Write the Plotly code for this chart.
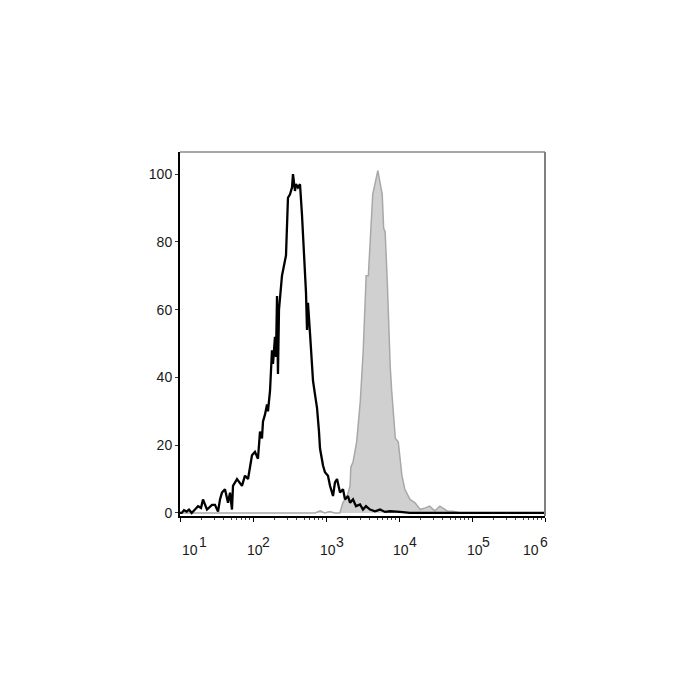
import plotly.graph_objects as go

# ---- data (x in log10 units of fluorescence, y = % of max) ----
black_logx = [1.0, 1.023, 1.055, 1.092, 1.123, 1.160, 1.205, 1.247, 1.288, 1.315, 1.370, 1.411,
              1.438, 1.479, 1.521, 1.548, 1.575, 1.616, 1.658, 1.685, 1.712, 1.726, 1.781, 1.849,
              1.890, 1.932, 1.959, 1.986, 2.027, 2.068, 2.096, 2.123, 2.137, 2.164, 2.192, 2.205,
              2.233, 2.260, 2.274, 2.301, 2.315, 2.329, 2.342, 2.356, 2.397, 2.438, 2.452, 2.479,
              2.507, 2.534, 2.548, 2.575, 2.589, 2.616, 2.644, 2.671, 2.685, 2.712, 2.726, 2.740,
              2.753, 2.781, 2.795, 2.822, 2.849, 2.877, 2.904, 2.918, 2.959, 2.986, 3.027, 3.055,
              3.096, 3.123, 3.151, 3.192, 3.233, 3.260, 3.301, 3.329, 3.370, 3.411, 3.466, 3.507,
              3.548, 3.603, 3.671, 3.740, 3.808, 3.877, 4.014, 4.151, 4.5, 5.0, 5.5, 6.0]
black_pct = [0.0, 0.0, 0.8, 0.4, 1.0, 0.0, 1.0, 2.0, 1.5, 4.0, 1.0, 2.0,
             2.4, 2.4, 0.4, 4.0, 6.0, 7.0, 3.0, 6.0, 1.0, 8.0, 10.0, 8.0,
             11.0, 10.0, 14.0, 17.0, 18.0, 16.0, 24.0, 22.0, 27.0, 29.0, 32.0, 30.0,
             36.0, 48.0, 44.0, 52.0, 46.0, 64.0, 41.0, 60.0, 70.0, 74.0, 76.0, 93.0,
             94.0, 96.0, 100.0, 95.0, 97.0, 96.0, 97.0, 88.0, 83.0, 72.0, 65.0, 54.0,
             62.0, 53.0, 47.0, 39.0, 35.0, 31.0, 24.0, 19.0, 14.0, 12.0, 11.0, 8.0,
             5.0, 9.0, 10.0, 6.0, 7.0, 4.0, 5.0, 3.0, 4.0, 2.0, 2.5, 1.0,
             2.0, 1.0, 0.5, 1.0, 0.3, 0.5, 0.3, 0.0, 0.0, 0.0, 0.0, 0.0]

gray_logx = [1.0, 2.85, 2.92, 2.98, 3.05, 3.12, 3.19, 3.23, 3.29, 3.33, 3.34, 3.37, 3.42, 3.47,
             3.51, 3.55, 3.58, 3.60, 3.64, 3.71, 3.77, 3.79, 3.81, 3.84, 3.86, 3.88, 3.90,
             3.95, 3.99, 4.04, 4.08, 4.15, 4.22, 4.29, 4.36, 4.42, 4.49, 4.56, 4.66, 4.74,
             4.84, 6.0]
gray_pct = [0.0, 0.0, 0.6, 0.0, 0.4, 0.0, 0.0, 3.0, 5.0, 8.0, 13.5, 15.0, 21.0, 33.0,
            48.0, 70.0, 70.0, 78.0, 94.0, 101.0, 94.0, 84.0, 83.0, 68.0, 54.0, 43.0, 36.0,
            22.0, 21.0, 11.0, 7.0, 4.0, 3.0, 1.0, 1.5, 2.0, 0.6, 2.0, 0.6, 0.5,
            0.0, 0.0]

y_ticks = [0, 20, 40, 60, 80, 100]
x_exponents = [1, 2, 3, 4, 5, 6]

black_x = [10 ** v for v in black_logx]
gray_x = [10 ** v for v in gray_logx]

FONT = "Liberation Sans, Arial"
TXT = "#1a1a1a"

fig = go.Figure()
fig.add_trace(go.Scatter(x=gray_x, y=gray_pct, mode="lines", fill="tozeroy",
                         fillcolor="#d0d0d0", line=dict(color="#a8a8a8", width=1.5),
                         showlegend=False, hoverinfo="skip"))
fig.add_trace(go.Scatter(x=black_x, y=black_pct, mode="lines",
                         line=dict(color="black", width=2.3),
                         showlegend=False, hoverinfo="skip"))

minor_vals = [k * 10 ** d for d in range(1, 6) for k in range(2, 10)]

fig.update_xaxes(type="log", range=[1, 6], showgrid=False, zeroline=False,
                 showline=True, linecolor="black", linewidth=2,
                 tickvals=[10 ** e for e in x_exponents], ticks="outside", ticklen=4,
                 tickcolor="black", tickwidth=1, showticklabels=False,
                 minor=dict(tickvals=minor_vals, ticks="outside", ticklen=2,
                            tickcolor="#444", tickwidth=1))
fig.update_yaxes(range=[-0.9, 106.5], showgrid=False, zeroline=False,
                 showline=True, linecolor="black", linewidth=2,
                 tickvals=y_ticks, ticktext=[str(v) for v in y_ticks],
                 ticks="outside", ticklen=3, tickcolor="#333", tickwidth=1,
                 tickfont=dict(family=FONT, size=14, color=TXT))

# top and right frame lines (gray)
fig.add_shape(type="line", xref="paper", yref="paper", x0=0, x1=1, y0=1, y1=1,
              line=dict(color="#8a8a8a", width=1.5))
fig.add_shape(type="line", xref="paper", yref="paper", x0=1, x1=1, y0=0, y1=1,
              line=dict(color="#808080", width=2))

# x tick labels 10^n with full-size exponents
base_shift = [10, 1.5, 1.5, 1.5, 2.5, -14.5]
exp_shift = [23, 13, 13.5, 13.5, 14, -1]
for e, bs, es in zip(x_exponents, base_shift, exp_shift):
    fig.add_annotation(x=e, xref="x", y=0, yref="paper", text="10", showarrow=False,
                       xanchor="center", yanchor="middle", xshift=bs, yshift=-34,
                       font=dict(family=FONT, size=14, color=TXT))
    fig.add_annotation(x=e, xref="x", y=0, yref="paper", text=str(e), showarrow=False,
                       xanchor="center", yanchor="middle", xshift=es, yshift=-26,
                       font=dict(family=FONT, size=14, color=TXT))

fig.update_layout(width=700, height=700, margin=dict(l=172, r=163, t=144, b=192),
                  paper_bgcolor="white", plot_bgcolor="white")

fig.write_html("out.html")
